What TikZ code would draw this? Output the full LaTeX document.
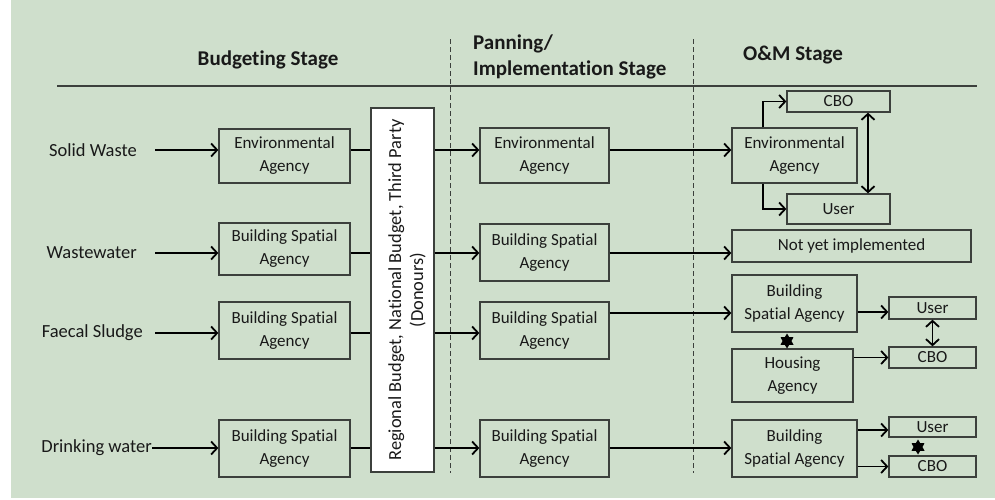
\documentclass[tikz,border=0pt]{standalone}
\usepackage{fontspec}
\setmainfont{Carlito}[Ligatures=NoCommon]
\usetikzlibrary{arrows.meta,shapes.geometric}
\definecolor{bg}{RGB}{207,223,204}
\definecolor{boxc}{RGB}{60,64,60}
\definecolor{txt}{RGB}{25,25,25}
\tikzset{
  box/.style={draw=boxc, line width=1.3pt, align=center, inner sep=0pt, text=txt,
    font=\fontsize{17}{23}\selectfont},
  lab/.style={text=txt, inner sep=0pt, font=\fontsize{18.5}{22}\selectfont},
  head/.style={text=txt, inner sep=0pt, align=left, font=\bfseries\fontsize{21}{26}\selectfont},
  arr/.style={line width=1.8pt, -{Straight Barb[length=6pt,width=13pt]}},
  darr/.style={line width=1.8pt, {Straight Barb[length=6pt,width=13pt]}-{Straight Barb[length=6pt,width=13pt]}},
  ln/.style={line width=1.8pt},
  sixstar/.style={star, star points=6, star point ratio=1.7, fill=black, inner sep=0pt, minimum size=15pt},
  dashline/.style={line width=1pt, dash pattern=on 5pt off 3pt, draw=boxc}
}
\begin{document}
\begin{tikzpicture}[x=1pt,y=-1pt]
\useasboundingbox (0,0) rectangle (995,499);
\fill[white] (0,0) rectangle (995,499);
\fill[bg] (11,0) rectangle (995,498);
% headings
\node[head] (hb) at (268,60) {Budgeting Stage};
\node[head, anchor=west] (hp) at (473,57) {Panning/\\Implementation Stage};
\node[head, anchor=west] (ho) at (743,55) {O\&M Stage};
\coordinate (rl) at (57,86);
\coordinate (rr) at (977,86);
\draw[line width=1.5pt, draw=boxc] (rl) -- (rr);
\coordinate (d1t) at (450,39); \coordinate (d1b) at (450,473);
\coordinate (d2t) at (693,39); \coordinate (d2b) at (693,473);
\draw[dashline] (d1t) -- (d1b);
\draw[dashline] (d2t) -- (d2b);
% row labels
\node[lab, anchor=east] (l1) at (137,150) {Solid Waste};
\node[lab, anchor=east] (l2) at (137,253) {Wastewater};
\node[lab, anchor=east] (l3) at (143,333) {Faecal Sludge};
\node[lab, anchor=east] (l4) at (152,448) {Drinking water};
% budgeting boxes
\node[box, minimum width=131pt, minimum height=54pt] (b1) at (284.5,156) {Environmental\\Agency};
\node[box, minimum width=131pt, minimum height=52pt] (b2) at (284.5,249) {Building Spatial\\Agency};
\node[box, minimum width=131pt, minimum height=57pt] (b3) at (284.5,330.5) {Building Spatial\\Agency};
\node[box, minimum width=131pt, minimum height=57pt] (b4) at (284.5,448.5) {Building Spatial\\Agency};
% white budget box
\node[box, fill=white, minimum width=63pt, minimum height=364pt] (wb) at (402.5,290) {};
\node[lab, rotate=90, align=center, font=\fontsize{18.4}{22}\selectfont] (wbt) at (407,290) {Regional Budget, National Budget, Third Party\\(Donours)};
% planning boxes
\node[box, minimum width=129pt, minimum height=55pt] (p1) at (544.5,155.5) {Environmental\\Agency};
\node[box, minimum width=129pt, minimum height=57pt] (p2) at (544.5,252.5) {Building Spatial\\Agency};
\node[box, minimum width=129pt, minimum height=57pt] (p3) at (544.5,330.5) {Building Spatial\\Agency};
\node[box, minimum width=129pt, minimum height=57pt] (p4) at (544.5,448.5) {Building Spatial\\Agency};
% O&M boxes
\node[box, minimum width=125pt, minimum height=55pt] (o1) at (794.5,155.5) {Environmental\\Agency};
\node[box, minimum width=103pt, minimum height=21pt] (c1) at (838.5,101.5) {CBO};
\node[box, minimum width=103pt, minimum height=30pt] (u1) at (838.5,209) {User};
\node[box, minimum width=239pt, minimum height=32pt] (n2) at (851.5,246) {Not yet implemented};
\node[box, minimum width=125pt, minimum height=57pt] (o3) at (794.5,303.5) {Building\\Spatial Agency};
\node[box, minimum width=121pt, minimum height=53pt] (h3) at (792.5,375.5) {Housing\\Agency};
\node[box, minimum width=87pt, minimum height=22pt] (u3) at (932.5,308) {User};
\node[box, minimum width=87pt, minimum height=21pt] (c3) at (932.5,357.5) {CBO};
\node[box, minimum width=125pt, minimum height=57pt] (o4) at (794.5,448.5) {Building\\Spatial Agency};
\node[box, minimum width=87pt, minimum height=20pt] (u4) at (932.5,427) {User};
\node[box, minimum width=87pt, minimum height=21pt] (c4) at (932.5,466.5) {CBO};
\node[sixstar] (s3) at (787,341) {};
\node[sixstar] (s4) at (918,447) {};
% connectors row 1
\draw[arr] (l1.east) ++(18,0) coordinate (l1a) -- (l1a -| b1.west);
\draw[ln] (b1.east |- l1) -- (wb.west |- l1);
\draw[arr] (wb.east |- l1) -- (p1.west |- l1);
\draw[arr] (p1.east |- l1) -- (o1.west |- l1);
\coordinate (k1) at (763,150);
\draw[arr] (o1.north -| k1) |- (c1.west);
\draw[arr] (o1.south -| k1) |- (u1.west);
\coordinate (k2) at (868,150);
\draw[darr] (c1.south -| k2) -- (u1.north -| k2);
% row 2
\draw[arr] (l2.east) ++(18,0) coordinate (l2a) -- (l2a -| b2.west);
\draw[ln] (b2.east |- l2) -- (wb.west |- l2);
\draw[arr] (wb.east |- l2) -- (p2.west |- l2);
\draw[arr] (p2.east |- l2) -- (n2.west |- l2);
% row 3
\draw[arr] (l3.east) ++(12,0) coordinate (l3a) -- (l3a -| b3.west);
\draw[ln] (b3.east |- l3) -- (wb.west |- l3);
\draw[arr] (wb.east |- l3) -- (p3.west |- l3);
\coordinate (r3) at (0,313);
\draw[arr] (p3.east |- r3) -- (o3.west |- r3);
\draw[arr] (o3.east |- u3) ++(0,4) coordinate (o3u) -- (o3u -| u3.west);
\draw[arr] (h3.east |- c3) -- (c3.west);
\draw[darr] (u3.south) -- (c3.north);
% row 4
\draw[arr] (l4.east) -- (l4.east -| b4.west);
\draw[ln] (b4.east |- l4) -- (wb.west |- l4);
\draw[arr] (wb.east |- l4) -- (p4.west |- l4);
\draw[arr] (p4.east |- l4) -- (o4.west |- l4);
\draw[arr] (o4.east |- u4) ++(0,3) coordinate (o4u) -- (o4u -| u4.west);
\draw[arr] (o4.east |- c4) -- (c4.west);
\end{tikzpicture}
\end{document}
